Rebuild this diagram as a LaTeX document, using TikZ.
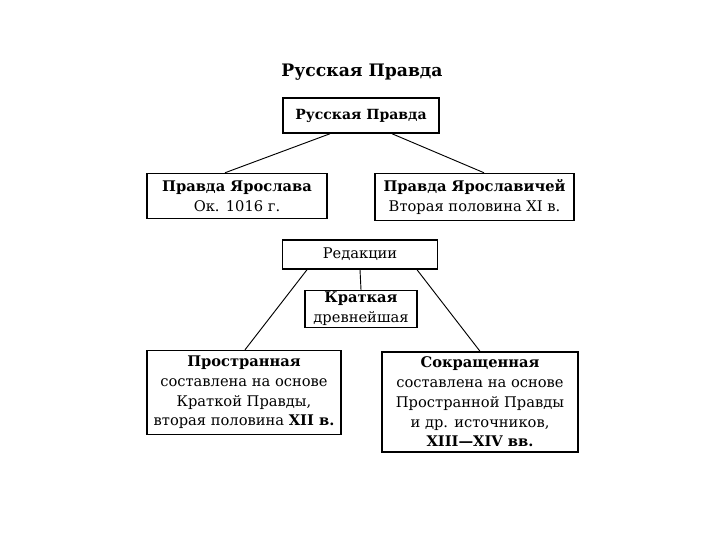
\documentclass[tikz,border=0pt]{standalone}
\usepackage{fontspec}
\setmainfont{DejaVu Serif}
\usetikzlibrary{calc}
\tikzset{
  box/.style={draw=black, line width=1.1pt, fill=white, align=center, inner sep=0pt,
    font=\fontsize{11}{14.8}\selectfont},
  conn/.style={draw=black, line width=0.7pt}
}
\begin{document}
\begin{tikzpicture}[x=0.75pt, y=-0.75pt]
\useasboundingbox (0,0) rectangle (720,540);
\node[font=\fontsize{12.9}{15}\selectfont\bfseries] (title) at (362,72) {Русская Правда};
\node[box, font=\fontsize{10.5}{14}\selectfont, minimum width=156*0.75pt, minimum height=35*0.75pt] (rp) at (361,115.5) {\textbf{Русская Правда}};
\node[box, minimum width=180*0.75pt, minimum height=45*0.75pt] (py) at (237,196) {\textbf{Правда Ярослава}\\Ок. 1016 г.};
\node[box, minimum width=199*0.75pt, minimum height=47*0.75pt] (pyc) at (474.5,197) {\textbf{Правда Ярославичей}\\Вторая половина XI в.};
\node[box, minimum width=155*0.75pt, minimum height=29*0.75pt] (red) at (360,254.5) {Редакции};
\node[box, minimum width=112*0.75pt, minimum height=37*0.75pt] (kr) at (361,309) {\textbf{Краткая}\\древнейшая};
\node[box, minimum width=194*0.75pt, minimum height=84*0.75pt] (pr) at (244,392.5) {\textbf{Пространная}\\составлена на основе\\Краткой Правды,\\вторая половина \textbf{XII в.}};
\node[box, minimum width=196*0.75pt, minimum height=100*0.75pt] (sok) at (480,402) {\textbf{Сокращенная}\\составлена на основе\\Пространной Правды\\и др. источников,\\\textbf{XIII—XIV вв.}};
\draw[conn] ($(rp.south)+(-31,0)$) -- ($(py.north)+(-12,0)$);
\draw[conn] ($(rp.south)+(31,0)$) -- ($(pyc.north)+(9.5,0)$);
\draw[conn] ($(red.south)+(-53,0)$) -- ($(pr.north)+(1,0)$);
\draw[conn] ($(red.south)+(57,0)$) -- (sok.north);
\draw[conn] (red.south) -- (kr.north);
\end{tikzpicture}
\end{document}
